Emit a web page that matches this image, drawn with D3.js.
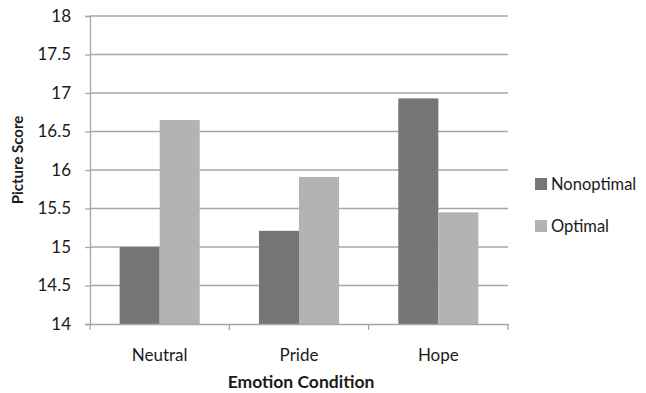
<!DOCTYPE html>
<html><head><meta charset="utf-8">
<script src="https://cdn.jsdelivr.net/npm/d3@7"></script>
<style>body{margin:0;background:#fff}svg{display:block}text{font-family:Lato,"Open Sans",sans-serif;fill:#1a1a1a}</style>
</head><body><svg id="c" width="646" height="393"></svg>
<script>
const categories = ["Neutral", "Pride", "Hope"];
const seriesNames = ["Nonoptimal", "Optimal"];
const nonoptimal = [15.0, 15.21, 16.93];
const optimal = [16.65, 15.91, 15.45];
const yTicks = [14, 14.5, 15, 15.5, 16, 16.5, 17, 17.5, 18];
const tickLabels = ["14", "14.5", "15", "15.5", "16", "16.5", "17", "17.5", "18"];
const colors = ["#767676", "#b3b3b3"];

const svg = d3.select("#c");
const L = 90, R = 508, T = 16, B = 324;
const x = d3.scaleBand().domain(categories).range([L, R]).paddingInner(0).paddingOuter(0);
const x1 = d3.scaleBand().domain(seriesNames).range([0, x.bandwidth()]).paddingInner(0).paddingOuter(0.74);
const y = d3.scaleLinear().domain([14, 18]).range([B, T]);

// gridlines
svg.append("g").selectAll("line").data(yTicks.slice(1)).join("line")
  .attr("x1", L).attr("x2", R).attr("y1", d => y(d)).attr("y2", d => y(d))
  .attr("stroke", "#a6a6a6").attr("stroke-width", 1.3);

// bars
const data = categories.map((c, i) => ({c, vals: [nonoptimal[i], optimal[i]]}));
const g = svg.append("g").selectAll("g").data(data).join("g")
  .attr("transform", d => `translate(${x(d.c)},0)`);
g.selectAll("rect").data(d => d.vals.map((v, j) => ({s: seriesNames[j], v, j}))).join("rect")
  .attr("x", d => x1(d.s)).attr("width", x1.bandwidth())
  .attr("y", d => y(d.v)).attr("height", d => y(14) - y(d.v))
  .attr("fill", d => colors[d.j]);

// y axis
const ya = d3.axisLeft(y).tickValues(yTicks).tickFormat((d, i) => tickLabels[i]).tickSize(5).tickPadding(14);
const yg = svg.append("g").attr("transform", `translate(${L},0)`).call(ya);
yg.select(".domain").attr("stroke", "#a6a6a6").attr("stroke-width", 1.3);
yg.selectAll(".tick line").attr("stroke", "#a6a6a6").attr("stroke-width", 1.3);
yg.selectAll(".tick text").attr("font-size", 17).attr("fill", "#1a1a1a").style("font-family", "Lato, sans-serif");

// x axis
const xa = d3.axisBottom(x).tickSize(0).tickPadding(0);
const xg = svg.append("g").attr("transform", `translate(0,${B})`).call(xa);
xg.select(".domain").attr("stroke", "#a6a6a6").attr("stroke-width", 1.3);
xg.selectAll(".tick text").attr("font-size", 17).attr("fill", "#1a1a1a").attr("dy", 0).attr("y", 37).style("font-family", "Lato, sans-serif");
// category boundary ticks
const bounds = [L, ...categories.map(c => x(c) + x.bandwidth())];
svg.append("g").selectAll("line").data(bounds).join("line")
  .attr("x1", d => d).attr("x2", d => d).attr("y1", B).attr("y2", B + 6)
  .attr("stroke", "#a6a6a6").attr("stroke-width", 1.3);

// titles
svg.append("text").attr("x", (L + R) / 2 + 2).attr("y", 388).attr("text-anchor", "middle")
  .attr("font-size", 17.5).attr("font-weight", "bold").text("Emotion Condition");
svg.append("text").attr("transform", `translate(23,160) rotate(-90)`).attr("text-anchor", "middle")
  .attr("font-size", 15).attr("font-weight", "bold").text("Picture Score");

// legend
const lg = svg.append("g").selectAll("g").data(seriesNames).join("g")
  .attr("transform", (d, i) => `translate(535,${178 + i * 42})`);
lg.append("rect").attr("width", 12).attr("height", 12).attr("fill", (d, i) => colors[i]);
lg.append("text").attr("x", 16).attr("y", 12).attr("font-size", 16.5).text(d => d);
</script></body></html>
